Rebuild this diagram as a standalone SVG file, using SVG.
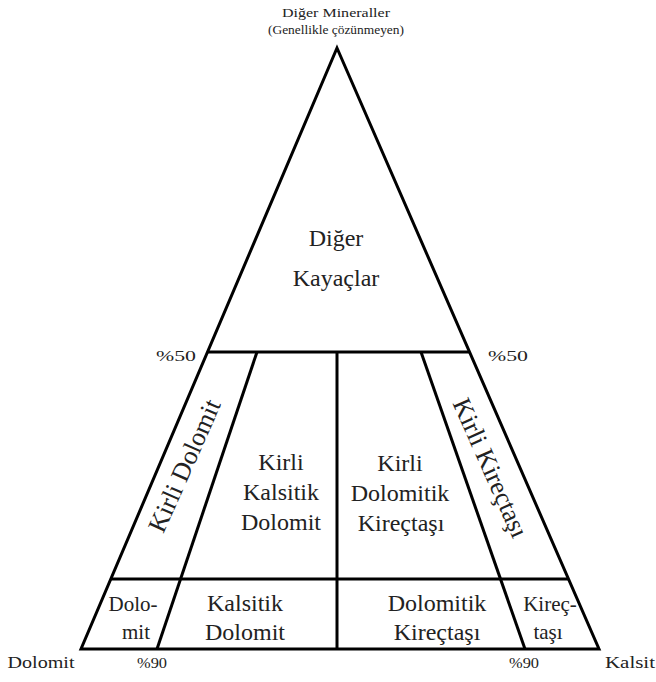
<svg xmlns="http://www.w3.org/2000/svg" width="656" height="682" viewBox="0 0 656 682">
<style>
.ln{stroke:#000;stroke-width:3;fill:none;stroke-linejoin:miter;stroke-miterlimit:20}
text{font-family:"Liberation Serif","Times New Roman",serif;fill:#222;text-anchor:middle}
.big{font-size:24px}
.rot{font-size:26px}
.mid{font-size:21px}
.sm{font-size:13px}
.pc{font-size:15px}
.lab{font-size:16px}
</style>
<rect width="656" height="682" fill="#fff"/>
<g id="lines">
<polygon class="ln" points="337,48 599,649 81,649"/>
<line class="ln" x1="207.5" y1="352" x2="469.5" y2="352"/>
<line class="ln" x1="111" y1="579" x2="568.5" y2="579"/>
<line class="ln" x1="337" y1="352" x2="337" y2="649"/>
<line class="ln" x1="257" y1="352" x2="157" y2="649"/>
<line class="ln" x1="421" y1="352" x2="525" y2="649"/>
</g>
<g id="top-label">
<text class="sm" x="336" y="17" textLength="108" lengthAdjust="spacingAndGlyphs">Diğer Mineraller</text>
<text class="sm" x="336" y="34" textLength="136" lengthAdjust="spacingAndGlyphs">(Genellikle çözünmeyen)</text>
</g>
<g id="diger-kayaclar">
<text class="big" x="336" y="246">Diğer</text>
<text class="big" x="336" y="286">Kayaçlar</text>
</g>
<g id="percent-labels">
<text class="pc" x="176" y="361" textLength="40" lengthAdjust="spacingAndGlyphs">%50</text>
<text class="pc" x="508" y="361" textLength="40" lengthAdjust="spacingAndGlyphs">%50</text>
<text class="pc" x="152" y="668" textLength="30" lengthAdjust="spacingAndGlyphs">%90</text>
<text class="pc" x="524" y="668" textLength="30" lengthAdjust="spacingAndGlyphs">%90</text>
</g>
<g id="corner-labels">
<text class="lab" x="41" y="668" textLength="67" lengthAdjust="spacingAndGlyphs">Dolomit</text>
<text class="lab" x="630" y="668" textLength="50" lengthAdjust="spacingAndGlyphs">Kalsit</text>
</g>
<g id="kirli-dolomit">
<text class="rot" transform="translate(185,466) rotate(-66)" y="8">Kirli Dolomit</text>
</g>
<g id="kirli-kirectasi">
<text class="rot" transform="translate(490,468) rotate(66)" y="8">Kirli Kireçtaşı</text>
</g>
<g id="kirli-kalsitik-dolomit">
<text class="big" x="281" y="470">Kirli</text>
<text class="big" x="281" y="500">Kalsitik</text>
<text class="big" x="281" y="530">Dolomit</text>
</g>
<g id="kirli-dolomitik-kirectasi">
<text class="big" x="400" y="471">Kirli</text>
<text class="big" x="400" y="501">Dolomitik</text>
<text class="big" x="401" y="531">Kireçtaşı</text>
</g>
<g id="dolomit">
<text class="mid" x="133" y="611">Dolo-</text>
<text class="mid" x="136" y="639">mit</text>
</g>
<g id="kalsitik-dolomit">
<text class="big" x="245" y="611">Kalsitik</text>
<text class="big" x="245" y="640">Dolomit</text>
</g>
<g id="dolomitik-kirectasi">
<text class="big" x="437" y="611">Dolomitik</text>
<text class="big" x="437" y="640">Kireçtaşı</text>
</g>
<g id="kirectasi">
<text class="mid" x="550" y="611">Kireç-</text>
<text class="mid" x="548" y="639">taşı</text>
</g>
</svg>
